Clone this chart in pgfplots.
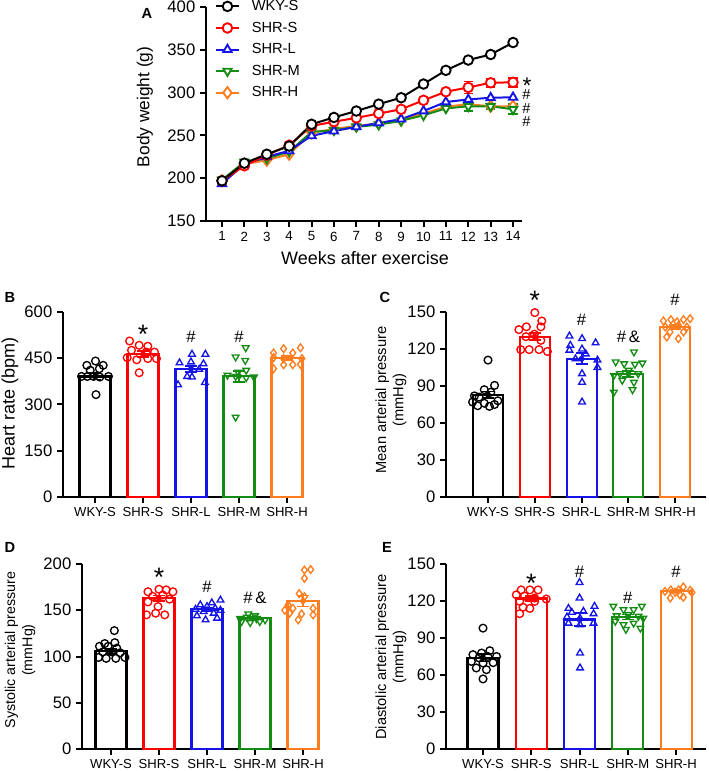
\documentclass[border=0pt]{standalone}
\usepackage{pgfplots}
\pgfplotsset{compat=1.18}
\usepackage{fontspec}
\setmainfont{Liberation Sans}
\definecolor{colW}{RGB}{0,0,0}
\definecolor{colS}{RGB}{255,0,0}
\definecolor{colL}{RGB}{20,20,230}
\definecolor{colM}{RGB}{20,140,20}
\definecolor{colH}{RGB}{255,125,30}
\tikzset{
  sig/.style={font=\fontsize{12.5}{13}\selectfont, anchor=center, inner sep=0pt},
  star/.style={font=\fontsize{20}{20}\selectfont, anchor=center, yshift=-4pt, inner sep=0pt},
}
\pgfplotsset{
  gp/.style={scale only axis, anchor=south west, axis lines=left,
    axis line style={-, line width=1.5pt}, tick align=outside,
    major tick length=4.5pt, tick style={line width=1.5pt, black},
    /pgf/number format/assume math mode=true, clip=false,
    yticklabel style={font=\fontsize{12.5}{14}\selectfont},
    xticklabel style={font=\fontsize{9.8}{11}\selectfont}},
  barp/.style={gp, ymin=0, height=138.75pt, xtick={0,1,2,3,4},
    xticklabels={WKY-S,SHR-S,SHR-L,SHR-M,SHR-H},
    ylabel style={font=\fontsize{11}{13}\selectfont, align=center}},
  bars/.style={ybar, bar shift=0pt, bar width=23.25pt, line width=1.6pt, fill=white, draw=#1},
  pts/.style={#1, only marks, mark size=2.9pt, mark options={draw=#1, fill=white, line width=1pt, solid}},
  ptsd/.style={pts=#1, mark=triangle, every mark/.append style={rotate=180}},
  errb/.style={#1, only marks, mark=none, forget plot, error bars/.cd, y dir=both, y explicit,
    error bar style={line width=1.4pt, #1}, error mark options={rotate=90, mark size=4.5pt, line width=1.4pt, #1}},
}
\begin{document}
\begin{tikzpicture}
\path[use as bounding box] (0,0) rectangle (531.75pt,578.25pt);
% ---------------- Panel A
\begin{axis}[gp, at={(154.5pt,412.5pt)}, width=237pt, height=160.5pt,
  xmin=0.285, xmax=14.4, ymin=150, ymax=400, xtick={1,...,14}, ytick={150,200,...,400},
  xticklabel style={font=\fontsize{10}{12}\selectfont},
  xlabel={Weeks after exercise}, ylabel={Body weight (g)},
  xlabel style={font=\fontsize{13.5}{15}\selectfont, at={(axis description cs:0.503,-0.173)}, anchor=center},
  ylabel style={font=\fontsize{13}{14}\selectfont, at={(axis description cs:-0.193,0.533)}, anchor=center},
  reverse legend,
  legend cell align=left,
  legend style={at={(axis description cs:0.028,1.045)}, anchor=north west, draw=none, fill=none,
    font=\fontsize{11}{12}\selectfont, row sep=3pt, inner sep=0pt,
    /tikz/every odd column/.append style={column sep=7pt}},
  legend image code/.code={\draw[mark repeat=2,mark phase=2,#1] plot coordinates {(0pt,0pt) (8.5pt,0pt) (17pt,0pt)};},
  every axis plot/.append style={line width=1.5pt, mark size=3.6pt, mark options={fill=white, solid, line width=1.4pt}},
]
\addplot[colH, mark=diamond*, mark size=4.2pt] coordinates {(1,197)(2,216.5)(3,221)(4,228)(5,253)(6,257.5)(7,261)(8,264)(9,268)(10,275.5)(11,283.5)(12,286.5)(13,284)(14,284)};
\addlegendentry{SHR-H}
\addplot[colM, mark=triangle*, every mark/.append style={rotate=180}, error bars/.cd, y dir=both, y explicit, error mark options={rotate=90, mark size=3.5pt, line width=1.4pt}]
 coordinates {(1,198)(2,219)(3,223)(4,231)(5,254)(6,256)(7,260)(8,262.5)(9,267)(10,273.5)(11,281.5)(12,284) +- (0,5) (13,284) +- (0,3) (14,280.5) +- (0,6)};
\addlegendentry{SHR-M}
\addplot[colL, mark=triangle*] coordinates {(1,193.5)(2,216.5)(3,225)(4,232)(5,249.5)(6,255)(7,260)(8,264.5)(9,269)(10,278.5)(11,289)(12,292)(13,294)(14,294.5)};
\addlegendentry{SHR-L}
\addplot[colS, mark=*, error bars/.cd, y dir=both, y explicit, error mark options={rotate=90, mark size=3.5pt, line width=1.4pt}]
 coordinates {(1,197)(2,214.5)(3,227)(4,238.5)(5,261)(6,266)(7,270.5)(8,275.5)(9,280.5)(10,291)(11,301)(12,306) +- (0,7) (13,311.5) +- (0,5) (14,312) +- (0,5)};
\addlegendentry{SHR-S}
\addplot[colW, mark=*] coordinates {(1,197)(2,217.5)(3,228)(4,237.5)(5,263)(6,271)(7,278.5)(8,286.5)(9,294)(10,310)(11,326)(12,338)(13,344.5)(14,358.5)};
\addlegendentry{WKY-S}
\node[star, font=\fontsize{17}{17}\selectfont, yshift=-0.6pt] at (axis cs:14.62,314.7) {*};
\node[sig, font=\fontsize{11}{11}\selectfont] at (axis cs:14.6,298) {\#};
\node[sig, font=\fontsize{11}{11}\selectfont] at (axis cs:14.6,282) {\#};
\node[sig, font=\fontsize{11}{11}\selectfont] at (axis cs:14.6,266) {\#};
\end{axis}
% ---------------- Panel B
\begin{axis}[barp, at={(47.25pt,205.5pt)}, width=180.75pt, xmin=-0.667, xmax=4.354, ymax=600,
  ytick={0,150,...,600}, ylabel={Heart rate (bpm)},
  ylabel style={font=\fontsize{13.5}{14}\selectfont, at={(axis description cs:-0.22,0.508)}, anchor=center}]
\addplot[bars=colW] coordinates {(0,391)};
\addplot[bars=colS] coordinates {(1,463)};
\addplot[bars=colL] coordinates {(2,416)};
\addplot[bars=colM] coordinates {(3,392)};
\addplot[bars=colH] coordinates {(4,451)};
\addplot[pts=colW, mark=o] coordinates {(-0.17,427)(0.01,441)(0.17,427)(-0.10,411)(0.09,416)(-0.28,391)(-0.16,391)(-0.03,391)(0.10,389)(0.28,391)(0.02,332)};
\addplot[pts=colS, mark=o] coordinates {(0.72,506)(0.92,492)(1.10,489)(0.76,476)(1.07,470)(1.24,470)(0.67,452)(0.87,445)(1.10,449)(1.28,449)(0.92,403)};
\addplot[pts=colL, mark=triangle] coordinates {(2.02,463)(2.30,463)(1.76,435)(2.00,438)(2.26,432)(2.17,414)(1.92,391)(1.73,364)(2.02,389)(2.29,371)};
\addplot[ptsd=colM] coordinates {(3.14,484)(2.93,454)(3.13,443)(3.15,411)(2.98,405)(2.76,395)(2.93,391)(3.31,389)(3.15,387)(2.93,259)};
\addplot[pts=colH, mark=diamond] coordinates {(3.93,481)(4.28,484)(3.72,467)(4.12,467)(3.72,452)(3.93,449)(4.31,449)(3.72,416)(3.93,429)(4.12,429)(4.28,430)};
\addplot[errb=colW] coordinates {(0,391) +- (0,10)};
\addplot[errb=colS] coordinates {(1,463) +- (0,10)};
\addplot[errb=colL] coordinates {(2,416) +- (0,10)};
\addplot[errb=colM] coordinates {(3,392) +- (0,18)};
\addplot[errb=colH] coordinates {(4,451) +- (0,7)};
\node[star] at (axis cs:1,545) {*};
\node[sig] at (axis cs:2,519) {\#};
\node[sig] at (axis cs:3,519) {\#};
\end{axis}
% ---------------- Panel C
\begin{axis}[barp, at={(334.5pt,205.5pt)}, width=195pt, xmin=-0.898, xmax=4.66, ymax=150,
  ytick={0,30,...,150}, ylabel={Mean arterial pressure\\(mmHg)},
  ylabel style={at={(axis description cs:-0.212,0.524)}, anchor=center}]
\addplot[bars=colW, bar width=22.5pt] coordinates {(0,83)};
\addplot[bars=colS, bar width=22.5pt] coordinates {(1,130)};
\addplot[bars=colL, bar width=22.5pt] coordinates {(2,112)};
\addplot[bars=colM, bar width=22.5pt] coordinates {(3,100)};
\addplot[bars=colH, bar width=22.5pt] coordinates {(4,138)};
\addplot[pts=colW, mark=o] coordinates {(0,111)(0.14,90.5)(-0.08,87)(0.06,85)(-0.29,82)(-0.19,81)(0.21,78)(-0.33,77)(-0.08,76)(0.14,75)(-0.22,74)(0.03,73.5)};
\addplot[pts=colS, mark=o] coordinates {(1,149.5)(1.15,142.7)(1.13,138)(0.82,138)(0.66,135.7)(0.99,132)(0.81,130)(1.13,127)(0.70,119.5)(0.88,119.5)(1.09,119.5)(1.27,118)};
\addplot[pts=colL, mark=triangle] coordinates {(1.74,130.5)(2.01,128.4)(2.30,125)(1.76,123)(1.74,119)(2.01,120)(2.09,116)(1.87,112)(2.34,111)(2.34,105)(2.01,100)(2.01,93)(2.01,77)};
\addplot[ptsd=colM] coordinates {(3.12,117.6)(2.73,109.5)(2.91,108)(3.14,107.6)(3.30,108.6)(2.69,98.6)(2.82,100)(3.01,102.7)(3.21,100)(2.87,94.6)(3.12,93)(2.69,85)(3.09,87)};
\addplot[pts=colH, mark=diamond] coordinates {(3.91,143.8)(4.18,143.8)(4.32,144.6)(3.75,142.7)(4.04,142)(3.79,137.8)(4.07,139)(4.25,137.8)(3.89,133.8)(4.18,133.8)(3.82,129.7)(4.07,128.4)};
\addplot[errb=colW] coordinates {(0,83) +- (0,2.5)};
\addplot[errb=colS] coordinates {(1,130) +- (0,3)};
\addplot[errb=colL] coordinates {(2,112) +- (0,4.5)};
\addplot[errb=colM] coordinates {(3,100) +- (0,2.5)};
\addplot[errb=colH] coordinates {(4,138) +- (0,1.5)};
\node[star] at (axis cs:1,163.8) {*};
\node[sig] at (axis cs:2,144) {\#};
\node[sig] at (axis cs:3,130) {\#\,\&};
\node[sig] at (axis cs:4,160) {\#};
\end{axis}
% ---------------- Panel D
\begin{axis}[barp, at={(61.5pt,16.5pt)}, width=178.5pt, xmin=-0.604, xmax=4.354, ymax=200,
  ytick={0,50,...,200}, ylabel={Systolic arterial pressure\\(mmHg)},
  ylabel style={font=\fontsize{10.7}{13}\selectfont, at={(axis description cs:-0.26,0.535)}, anchor=center}]
\addplot[bars=colW] coordinates {(0,105.5)};
\addplot[bars=colS] coordinates {(1,163)};
\addplot[bars=colL] coordinates {(2,151)};
\addplot[bars=colM] coordinates {(3,142)};
\addplot[bars=colH] coordinates {(4,160)};
\addplot[pts=colW, mark=o] coordinates {(0.07,128)(-0.13,114)(0.08,115)(-0.24,111)(-0.06,111)(0.12,109)(-0.17,105)(0.01,105)(0.19,104)(-0.26,99)(-0.10,98)(0.10,98)(0.29,99)};
\addplot[pts=colS, mark=o] coordinates {(0.77,170)(1,172.7)(1.15,172)(1.29,170)(0.87,165)(1.08,166.5)(1.22,162)(0.77,159)(0.98,154)(0.74,145)(0.93,146.8)(1.12,145)};
\addplot[pts=colL, mark=triangle] coordinates {(2.28,161)(2.10,158)(1.86,155.8)(2,154)(2.17,152)(1.76,151)(1.93,148.6)(2.14,146.8)(2.28,150)(1.79,143.9)(1.97,139.6)(2.21,141.4)};
\addplot[ptsd=colM] coordinates {(2.86,146)(3,144)(2.69,141)(2.83,142.4)(3.03,141)(3.21,139.6)(2.72,137.8)(2.90,136.7)(3.10,137.8)};
\addplot[pts=colH, mark=diamond] coordinates {(4.03,193.5)(4.16,194)(4.03,184.5)(3.92,168)(4.03,164.7)(3.62,150)(3.79,152)(4.21,152)(3.72,146.8)(3.97,146)(4.21,145)(3.90,139.6)(3.69,155.8)};
\addplot[errb=colW] coordinates {(0,105.5) +- (0,2.5)};
\addplot[errb=colS] coordinates {(1,163) +- (0,3)};
\addplot[errb=colL] coordinates {(2,151) +- (0,2)};
\addplot[errb=colM] coordinates {(3,142) +- (0,1)};
\addplot[errb=colH] coordinates {(4,160) +- (0,6)};
\node[star] at (axis cs:1,191) {*};
\node[sig] at (axis cs:2,175) {\#};
\node[sig] at (axis cs:3,163) {\#\,\&};
\end{axis}
% ---------------- Panel E
\begin{axis}[barp, at={(334.5pt,16.5pt)}, width=195pt, xmin=-0.767, xmax=4.62, ymax=150,
  ytick={0,30,...,150}, ylabel={Diastolic arterial pressure\\(mmHg)},
  ylabel style={at={(axis description cs:-0.212,0.497)}, anchor=center}]
\addplot[bars=colW] coordinates {(0,74)};
\addplot[bars=colS] coordinates {(1,122)};
\addplot[bars=colL] coordinates {(2,105)};
\addplot[bars=colM] coordinates {(3,107)};
\addplot[bars=colH] coordinates {(4,128)};
\addplot[pts=colW, mark=o] coordinates {(0,98)(0.14,79.7)(-0.03,77.8)(-0.21,76.5)(0.28,75)(-0.08,73.8)(0.10,75)(-0.24,71)(0,69.7)(0.21,70)(-0.14,65.7)(0.07,64.3)(0,56.8)};
\addplot[pts=colS, mark=o] coordinates {(0.79,129)(0.97,129)(1.14,129)(0.69,125)(0.86,124)(1.07,122.4)(1.31,121.6)(0.76,119.7)(1.07,119.7)(0.83,114.9)(0.97,114)(0.76,109.7)};
\addplot[pts=colL, mark=triangle] coordinates {(2,135)(2,122.4)(1.77,114)(2.08,111.6)(2.31,115.7)(1.84,110.8)(2.29,109.7)(1.74,107)(2.01,106)(1.77,102)(2.01,100.8)(2.29,102)(2.01,77.8)(2.01,65.7)};
\addplot[ptsd=colM] coordinates {(3.29,115.7)(3.12,113)(2.91,113)(2.70,115.7)(2.77,108)(3.01,109)(3.22,107.6)(3.32,106)(2.74,103.5)(2.91,100.8)(3.12,102)(3.26,98)(2.96,97)};
\addplot[pts=colH, mark=diamond] coordinates {(3.89,129)(4.15,131.4)(4.29,128.6)(3.98,127)(3.77,127.8)(4.08,125)(4.33,127)(3.88,122.4)(4.15,123)(4.05,129)};
\addplot[errb=colW] coordinates {(0,74) +- (0,3)};
\addplot[errb=colS] coordinates {(1,122) +- (0,2)};
\addplot[errb=colL] coordinates {(2,105) +- (0,5)};
\addplot[errb=colM] coordinates {(3,107) +- (0,2)};
\addplot[errb=colH] coordinates {(4,128) +- (0,1)};
\node[star] at (axis cs:1,138.6) {*};
\node[sig] at (axis cs:2,143.5) {\#};
\node[sig] at (axis cs:3,123) {\#};
\node[sig] at (axis cs:4,143.5) {\#};
\end{axis}
% panel letters
\node[font=\bfseries\fontsize{11}{12}\selectfont] at (110.25pt,568.5pt) {A};
\node[font=\bfseries\fontsize{11}{12}\selectfont] at (7.5pt,355.5pt) {B};
\node[font=\bfseries\fontsize{11}{12}\selectfont] at (288.75pt,355.5pt) {C};
\node[font=\bfseries\fontsize{11}{12}\selectfont] at (7.5pt,168pt) {D};
\node[font=\bfseries\fontsize{11}{12}\selectfont] at (290.25pt,168pt) {E};
\end{tikzpicture}
\end{document}
